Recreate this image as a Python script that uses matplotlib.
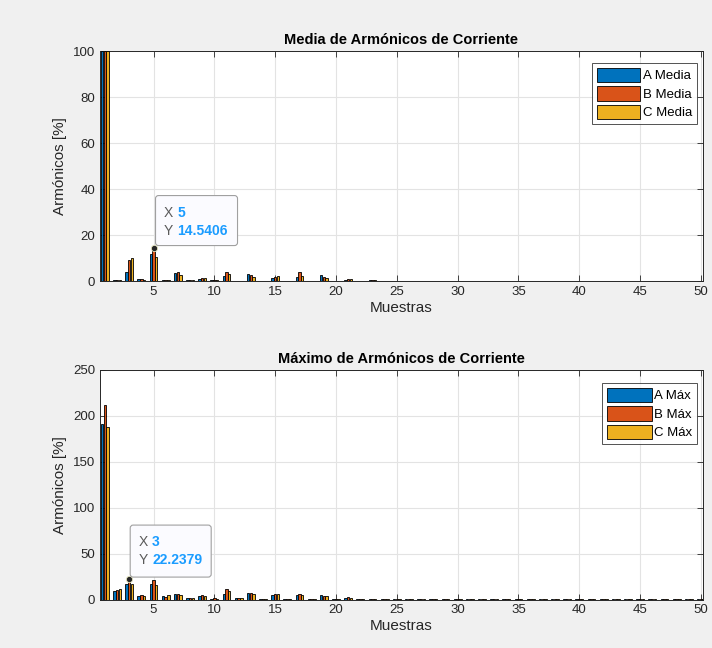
import matplotlib
matplotlib.use("Agg")
import matplotlib.pyplot as plt
import numpy as np
from matplotlib.patches import FancyBboxPatch
from matplotlib.transforms import Affine2D

plt.rcParams['font.family'] = ['Liberation Sans', 'DejaVu Sans']

harmonics = list(range(1, 51))

a_media = [100, 0.6, 3.9, 0.8, 11.7, 0.3, 3.4, 0.5, 0.7, 0.3,
           2.2, 0.2, 2.9, 0.2, 1.5, 0.2, 1.8, 0.1, 2.5, 0.1,
           0.6, 0.2, 0.3, 0.15, 0.2, 0.1, 0.15, 0.1, 0.15, 0.1,
           0.15, 0.1, 0.1, 0.1, 0.1, 0.1, 0.1, 0.1, 0.1, 0.1,
           0.1, 0.1, 0.1, 0.1, 0.1, 0.1, 0.1, 0.1, 0.1, 0.1]
b_media = [100, 0.6, 9.0, 0.9, 14.5406, 0.3, 3.8, 0.4, 1.5, 0.3,
           4.1, 0.2, 2.6, 0.2, 1.9, 0.2, 4.1, 0.1, 1.8, 0.1,
           0.9, 0.2, 0.3, 0.15, 0.2, 0.1, 0.15, 0.1, 0.15, 0.1,
           0.15, 0.1, 0.1, 0.1, 0.1, 0.1, 0.1, 0.1, 0.1, 0.1,
           0.1, 0.1, 0.1, 0.1, 0.1, 0.1, 0.1, 0.1, 0.1, 0.1]
c_media = [100, 0.6, 10.0, 0.6, 10.5, 0.3, 2.5, 0.4, 1.5, 0.3,
           2.9, 0.2, 1.6, 0.2, 2.0, 0.2, 2.2, 0.1, 1.2, 0.1,
           1.0, 0.2, 0.3, 0.15, 0.2, 0.1, 0.15, 0.1, 0.15, 0.1,
           0.15, 0.1, 0.1, 0.1, 0.1, 0.1, 0.1, 0.1, 0.1, 0.1,
           0.1, 0.1, 0.1, 0.1, 0.1, 0.1, 0.1, 0.1, 0.1, 0.1]

a_max = [191, 9.5, 16.7, 3.6, 17.1, 3.3, 5.5, 1.5, 4.0, 1.0,
         6.5, 1.5, 7.6, 1.0, 4.4, 1.0, 4.4, 1.0, 4.4, 1.0,
         1.8, 1.0, 1.0, 0.9, 0.9, 0.8, 0.8, 0.8, 0.8, 0.8,
         0.8, 0.7, 0.7, 0.7, 0.7, 0.7, 0.7, 0.7, 0.7, 0.7,
         0.6, 0.6, 0.6, 0.6, 0.6, 0.6, 0.6, 0.6, 0.6, 0.6]
b_max = [212, 10.2, 22.2379, 4.4, 21.1, 2.9, 5.5, 1.5, 4.7, 1.5,
         10.9, 1.5, 6.9, 1.0, 5.8, 1.0, 6.5, 1.0, 3.6, 1.0,
         2.2, 1.0, 1.0, 0.9, 0.9, 0.8, 0.8, 0.8, 0.8, 0.8,
         0.8, 0.7, 0.7, 0.7, 0.7, 0.7, 0.7, 0.7, 0.7, 0.7,
         0.6, 0.6, 0.6, 0.6, 0.6, 0.6, 0.6, 0.6, 0.6, 0.6]
c_max = [188, 11.6, 17.0, 3.6, 15.3, 4.4, 4.7, 1.5, 3.3, 1.0,
         9.1, 1.5, 6.2, 1.0, 5.8, 1.0, 5.1, 1.0, 3.3, 1.0,
         1.8, 1.0, 1.0, 0.9, 0.9, 0.8, 0.8, 0.8, 0.8, 0.8,
         0.8, 0.7, 0.7, 0.7, 0.7, 0.7, 0.7, 0.7, 0.7, 0.7,
         0.6, 0.6, 0.6, 0.6, 0.6, 0.6, 0.6, 0.6, 0.6, 0.6]

media_labels = ['A Media', 'B Media', 'C Media']
max_labels = ['A Máx', 'B Máx', 'C Máx']
colors = ['#0072BD', '#D95319', '#EDB120']

fig = plt.figure(figsize=(7.12, 6.48), dpi=100, facecolor='#f0f0f0')
ax1 = fig.add_axes([100/712, (648-281)/648, 603/712, 230/648])
ax2 = fig.add_axes([100/712, (648-599.5)/648, 603/712, 229.5/648])

x = np.array(harmonics)
offsets = [-0.222, 0.0, 0.222]
bw = 0.2


def draw(ax, series, labels, ylim, yticks, title, tip_x, tip_y, tip_val, box,
         leg_anchor, handlelen):
    for s, lab, col, off in zip(series, labels, colors, offsets):
        ax.bar(x + off, s, width=bw, color=col, edgecolor='black', linewidth=0.6,
               label=lab, zorder=3)
    ax.set_xlim(0.6, 50.17)
    ax.set_ylim(*ylim)
    ax.set_xticks(range(5, 51, 5))
    ax.set_yticks(yticks)
    ax.grid(True, color='#e3e3e3', linewidth=0.8, zorder=0)
    ax.set_axisbelow(True)
    ax.tick_params(direction='in', top=True, right=True, length=4, width=0.6,
                   colors='#262626', labelsize=9.5, labelcolor='#262626')
    for sp in ax.spines.values():
        sp.set_color('#262626')
        sp.set_linewidth(0.7)
    ax.set_title(title, fontsize=10.5, fontweight='bold', color='black', pad=5)
    ax.set_xlabel('Muestras', fontsize=11, color='#262626', labelpad=2)
    ax.set_ylabel('Armónicos [%]', fontsize=11, color='#262626', labelpad=4)
    leg = ax.legend(loc='upper right', bbox_to_anchor=leg_anchor, fontsize=9.5,
                    frameon=True, fancybox=False,
                    handlelength=handlelen, handleheight=1.3, handletextpad=0.2,
                    borderpad=0.35, labelspacing=0.3, borderaxespad=0.0)
    leg.get_frame().set_edgecolor('#262626')
    leg.get_frame().set_linewidth(0.7)
    # datatip
    ax.plot([tip_x], [tip_val], 'o', color='#262626', markersize=4.5,
            markeredgecolor='#e8e8c0', markeredgewidth=0.6, zorder=6)
    dx, dy, w, h = box
    px, py = ax.transData.transform((tip_x, tip_val))
    tr = Affine2D().translate(px + dx, py + dy)
    patch = FancyBboxPatch((0, 0), w, h, boxstyle='round,pad=0,rounding_size=3',
                           transform=tr, facecolor='#fbfbff', edgecolor='#a0a0a0',
                           linewidth=0.8, zorder=7)
    patch.set_clip_on(False)
    ax.add_artist(patch)
    ax.text(8, h - 17, 'X', transform=tr, fontsize=10, color='#5a5a5a', va='center', ha='left', zorder=8)
    ax.text(22, h - 17, str(tip_x), transform=tr, fontsize=10, color='#1a9cff', fontweight='bold',
            va='center', ha='left', zorder=8)
    ax.text(8, h - 35, 'Y', transform=tr, fontsize=10, color='#5a5a5a', va='center', ha='left', zorder=8)
    ax.text(22, h - 35, tip_y, transform=tr, fontsize=10, color='#1a9cff', fontweight='bold',
            va='center', ha='left', zorder=8)


draw(ax1, [a_media, b_media, c_media], media_labels, (0, 100), range(0, 101, 20),
     'Media de Armónicos de Corriente', 5, '14.5406', b_media[4], (2, 2, 82, 50),
     (0.990, 0.948), 3.3)
draw(ax2, [a_max, b_max, c_max], max_labels, (0, 250), range(0, 251, 50),
     'Máximo de Armónicos de Corriente', 3, '22.2379', b_max[2], (1, 2, 81, 52),
     (0.990, 0.943), 3.4)

fig.savefig('out.png', dpi=100, facecolor=fig.get_facecolor())
